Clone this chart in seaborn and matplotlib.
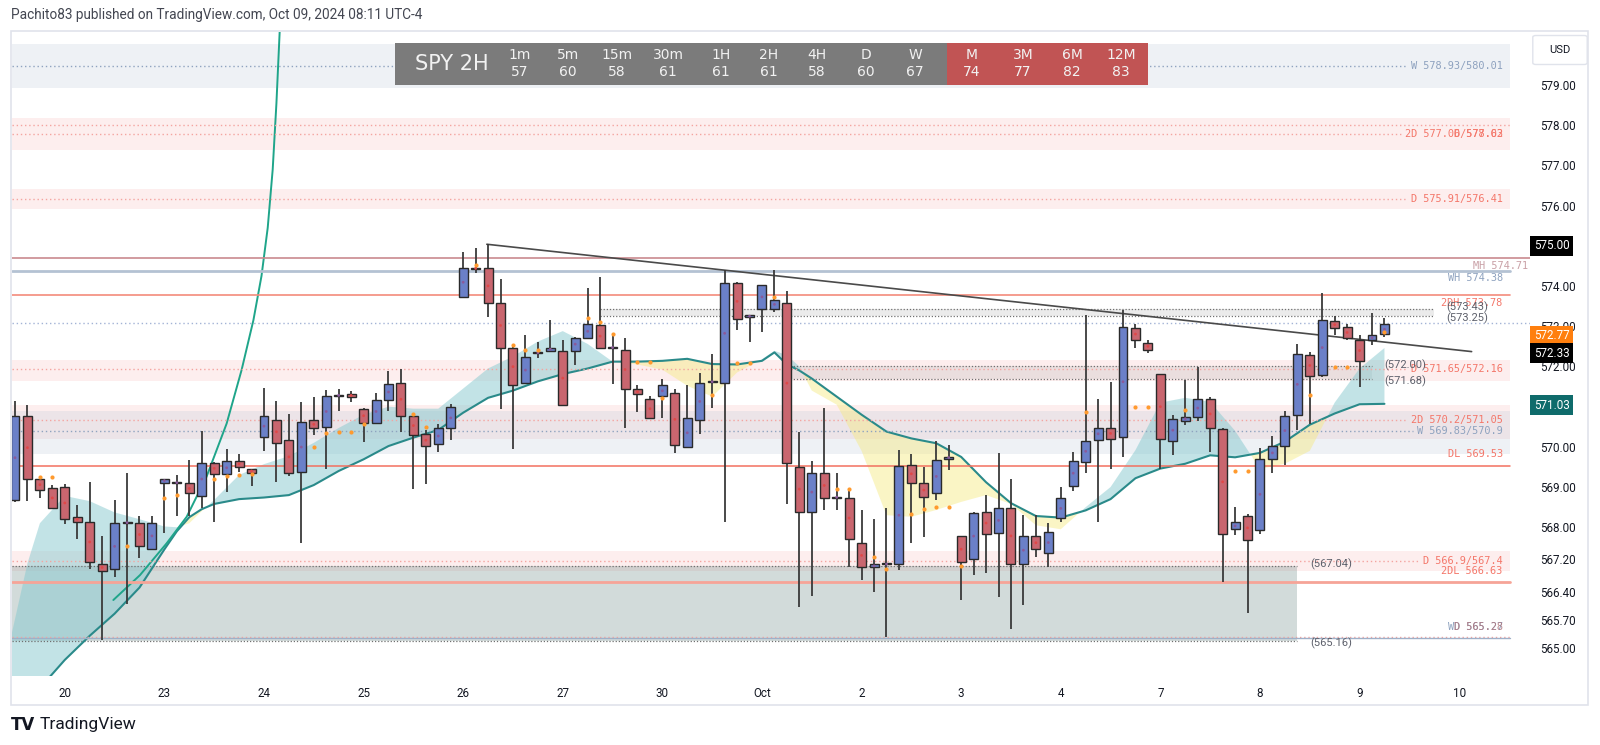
"""
SPY 2H snapshot (TradingView style) redrawn with seaborn + matplotlib.
Candles, EMA cloud, key levels / zones and the MTF header table.
"""
import numpy as np
import matplotlib
matplotlib.use("Agg")
import matplotlib.pyplot as plt
import matplotlib.transforms as mtransforms
from matplotlib.patches import Rectangle, FancyBboxPatch
import seaborn as sns

# ── 2H candles: last 4 bars of Sep 19, then Sep 20 .. Oct 9 (8 bars / day) ──
opens = [568.69, 570.77, 569.19, 568.97, 569.01, 568.26, 568.14, 567.08, 566.95, 568.11,
         568.11, 567.47, 569.11, 569.10, 569.09, 568.79, 569.61, 569.32, 569.64, 569.46,
         570.25, 570.66, 570.16, 569.37, 570.66, 570.50, 571.27, 571.31, 570.95, 570.60,
         571.16, 571.60, 570.77, 570.31, 570.07, 570.46, 573.73, 574.46, 574.44, 573.59,
         572.45, 571.58, 572.33, 572.39, 572.38, 572.39, 572.70, 573.04, 572.47, 572.42,
         571.43, 571.19, 571.26, 571.33, 569.99, 570.68, 571.61, 571.58, 574.07, 573.23,
         573.44, 573.44, 573.58, 569.51, 568.39, 569.34, 568.74, 568.74, 567.60, 567.00,
         567.08, 567.08, 569.55, 569.09, 568.86, 569.71, 567.78, 567.20, 568.39, 567.85,
         568.49, 567.08, 567.78, 567.35, 568.22, 569.03, 569.63, 570.17, 570.48, 570.25,
         572.95, 572.59, 571.81, 570.14, 570.65, 570.75, 571.18, 570.44, 567.95, 568.29,
         567.93, 569.69, 570.03, 570.79, 572.29, 571.79, 573.13, 572.97, 572.65, 572.65,
         572.80]
highs = [571.15, 571.04, 569.26, 569.05, 569.07, 568.55, 569.12, 567.79, 568.68, 569.36,
         568.28, 568.28, 569.21, 569.29, 569.67, 570.40, 569.63, 569.95, 569.82, 569.46,
         571.47, 571.14, 570.82, 571.12, 571.23, 571.41, 571.44, 571.39, 570.96, 571.33,
         571.89, 571.94, 570.85, 570.42, 570.58, 571.06, 574.85, 574.94, 575.04, 574.17,
         572.53, 572.78, 572.60, 573.15, 572.66, 572.74, 573.94, 574.23, 572.82, 572.70,
         571.53, 571.26, 571.68, 571.45, 571.54, 571.84, 572.30, 574.40, 574.11, 573.28,
         574.02, 574.40, 573.87, 570.38, 569.64, 570.96, 569.34, 568.97, 568.43, 568.20,
         568.49, 569.92, 569.82, 569.51, 570.14, 570.04, 567.78, 568.39, 568.80, 569.84,
         569.20, 568.30, 568.30, 568.10, 568.99, 569.88, 573.28, 571.18, 571.62, 573.40,
         573.05, 572.66, 571.81, 570.79, 571.66, 571.99, 571.25, 570.48, 568.50, 568.33,
         569.97, 570.26, 570.88, 572.57, 572.37, 573.82, 573.25, 573.05, 572.78, 573.32,
         573.20]
lows = [568.64, 568.66, 568.72, 568.45, 568.08, 567.70, 566.95, 565.19, 566.77, 566.09,
        567.23, 567.45, 567.85, 568.28, 568.29, 568.49, 568.14, 568.88, 569.38, 569.03,
        569.90, 569.12, 569.27, 567.62, 570.29, 569.46, 570.90, 571.12, 570.13, 570.58,
        570.89, 570.38, 568.95, 569.07, 569.88, 570.17, 573.73, 574.33, 573.22, 570.94,
        569.94, 571.58, 572.20, 572.37, 571.04, 572.03, 572.70, 572.47, 571.56, 570.46,
        570.87, 570.71, 570.71, 569.85, 569.96, 570.32, 570.97, 568.14, 572.91, 572.62,
        572.86, 573.36, 568.58, 566.02, 566.28, 568.43, 568.44, 567.02, 566.69, 566.40,
        565.28, 566.94, 567.60, 567.76, 568.68, 569.42, 566.19, 566.81, 566.85, 566.27,
        565.48, 566.07, 567.25, 567.02, 568.14, 568.91, 569.34, 568.14, 569.46, 569.74,
        572.45, 572.34, 569.46, 569.80, 570.54, 570.65, 569.88, 566.65, 567.81, 565.86,
        567.82, 569.34, 569.56, 570.43, 570.58, 571.74, 572.78, 572.66, 571.48, 572.53,
        572.74]
closes = [570.77, 569.19, 568.93, 568.49, 568.20, 568.14, 567.13, 566.92, 568.10, 568.12,
          567.53, 568.10, 569.21, 569.12, 568.84, 569.61, 569.32, 569.64, 569.51, 569.34,
          570.78, 570.09, 569.34, 570.62, 570.46, 571.26, 571.29, 571.25, 570.60, 571.16,
          571.57, 570.77, 570.29, 570.02, 570.47, 570.98, 574.46, 574.42, 573.57, 572.45,
          571.54, 572.24, 572.35, 572.47, 571.04, 572.72, 573.05, 572.47, 572.47, 571.43,
          571.31, 570.71, 571.53, 570.04, 570.71, 571.58, 571.63, 574.07, 573.17, 573.27,
          574.02, 573.65, 569.59, 568.39, 569.36, 568.74, 568.75, 567.72, 567.00, 567.08,
          567.09, 569.52, 569.11, 568.76, 569.67, 569.76, 567.13, 568.36, 567.82, 568.49,
          567.08, 567.78, 567.45, 567.89, 568.72, 569.66, 570.15, 570.48, 570.19, 572.99,
          572.66, 572.41, 570.19, 570.69, 570.75, 571.18, 570.46, 567.82, 568.12, 567.68,
          569.71, 570.01, 570.78, 572.32, 571.76, 573.15, 572.95, 572.72, 572.14, 572.78,
          573.05]

day_ticks = [4, 12, 20, 28, 36, 44, 52, 60, 68, 76, 84, 92, 100, 108, 116]
day_labels = ["20", "23", "24", "25", "26", "27", "30", "Oct", "2", "3", "4", "7", "8", "9", "10"]

# ── EMA cloud (slow line drawn, fast line only bounds the fill) ──
ema_x = [-0.3, 1, 2, 4, 6, 8, 10, 12, 13, 14, 15, 16, 18, 20, 22, 24, 26, 28, 30, 32, 34, 36,
         38, 40, 42, 44, 46, 48, 50, 52, 54, 56, 58, 60, 61, 62, 63, 64, 66, 68, 70, 72, 74,
         76, 78, 80, 82, 84, 86, 88, 90, 92, 94, 96, 98, 100, 102, 104, 106, 108, 110]
ema_slow = [563.3, 563.7, 564.0, 564.7, 565.3, 565.85, 566.5, 567.45, 567.9, 568.25, 568.45,
            568.58, 568.70, 568.74, 568.80, 569.05, 569.40, 569.69, 570.02, 570.23, 570.42,
            570.85, 571.22, 571.40, 571.63, 571.81, 571.95, 572.12, 572.12, 572.14, 572.19,
            572.06, 572.05, 572.14, 572.35, 572.05, 571.90, 571.70, 571.25, 570.80, 570.38,
            570.21, 570.09, 569.75, 569.12, 568.60, 568.28, 568.24, 568.42, 568.70, 569.22,
            569.46, 569.58, 569.79, 569.74, 569.85, 570.13, 570.55, 570.83, 571.06, 571.07]
ema_fast = [565.3, 567.1, 568.1, 568.78, 568.65, 568.37, 568.2, 568.02, 568.0, 568.1, 568.4,
            568.68, 569.30, 569.57, 569.77, 570.10, 570.47, 570.80, 571.0, 570.95, 570.95,
            571.45, 571.95, 572.25, 572.62, 572.88, 572.56, 572.12, 572.05, 571.92, 571.52,
            571.25, 571.85, 572.18, 572.39, 572.28, 572.0, 571.40, 571.05, 569.9, 568.30,
            568.26, 568.43, 568.63, 568.80, 568.58, 568.05, 567.95, 568.50, 569.0, 569.92,
            571.10, 571.22, 571.12, 570.40, 569.45, 569.58, 569.90, 571.10, 571.95, 572.46]

# steep green curve
curve_x = [7.9, 10.04, 12.18, 13.79, 15.39, 17.0, 18.2, 19.15, 19.8, 20.3, 20.7, 21.0, 21.3]
curve_y = [566.19, 566.81, 567.60, 568.26, 569.26, 570.58, 571.91, 573.15, 574.25, 575.45,
           576.90, 578.55, 580.6]

# descending trendline
trend_x = [37.9, 117.0]
trend_y = [575.04, 572.37]

# orange marker dots
odot_x = [2, 3, 9, 12, 13, 16, 17, 18, 19, 24, 25, 26, 27, 28, 32, 33, 37, 40, 41, 42, 46,
          47, 48, 50, 51, 52, 56, 58, 59, 61, 66, 67, 69, 70, 72, 73, 74, 75, 76, 86, 90, 91,
          94, 98, 99, 104, 106, 107, 110]
odot_y = [569.25, 569.25, 567.54, 568.73, 568.80, 569.19, 569.28, 569.30, 569.32, 570.00,
          570.34, 570.38, 570.38, 570.57, 570.82, 570.49, 574.52, 572.53, 572.42, 572.42,
          573.20, 573.10, 572.80, 572.12, 572.12, 571.21, 571.29, 572.08, 572.08, 573.73,
          568.95, 568.95, 567.27, 566.95, 568.33, 568.45, 568.50, 568.50, 567.04, 570.86,
          571.00, 571.00, 570.92, 569.39, 569.39, 571.30, 571.98, 571.98, 572.85]

# ── key-level bands ("d" = daily-type pink, "w" = weekly-type blue-grey) ──
band_lo = [578.93, 577.38, 575.91, 571.65, 570.20, 569.83, 566.90]
band_hi = [580.01, 578.17, 576.41, 572.16, 571.05, 570.90, 567.40]
band_kind = ["w", "d", "d", "d", "d", "w", "d"]

# dotted mid lines with their labels
dotted_y = [579.47, 577.78, 576.17, 571.93, 570.66, 570.40, 567.16]
dotted_kind = ["w", "d", "d", "d", "d", "w", "d"]
dotted_text = ["W 578.93/580.01", "2D 577.06/577.63", "D 575.91/576.41", "D 571.65/572.16",
               "2D 570.2/571.05", "W 569.83/570.9", "D 566.9/567.4"]
extra_dotted_y = [578.00, 573.07, 565.28]
extra_dotted_kind = ["d", "w", "d"]

# solid levels
solid_y = [574.71, 574.38, 573.78, 569.53, 566.63, 565.24]
solid_text = ["MH 574.71", "WH 574.38", "2DH 573.78", "DL 569.53", "2DL 566.63", "WD 565.27"]
solid_label_y = [574.50, 574.20, 573.58, 569.83, 566.90, 565.52]
solid_color = ["#c98a8f", "#b4c2d3", "#f38b7c", "#f2705f", "#f6a497", "#9fb0c8"]
solid_width = [1.2, 2.0, 1.2, 1.1, 2.0, 1.0]

# grey zones with dotted borders
zone_lo = [573.25, 571.68, 565.16]
zone_hi = [573.43, 572.00, 567.04]
zone_from = [47, 62, -0.24]
zone_to = [114, 109, 103]
zone_text_lo = ["(573.25)", "(571.68)", "(565.16)"]
zone_text_hi = ["(573.43)", "(572.00)", "(567.04)"]

# right price scale
price_ticks = [579, 578, 577, 576, 574, 573, 572, 570, 569, 568, 567.2, 566.4, 565.7, 565]
box_values = [575.00, 572.77, 572.33, 571.03]
box_colors = ["#000000", "#ff7f0e", "#000000", "#0f6b6b"]

# header MTF table
tf_names = ["1m", "5m", "15m", "30m", "1H", "2H", "4H", "D", "W", "M", "3M", "6M", "12M"]
tf_values = [57, 60, 58, 61, 61, 61, 58, 60, 67, 74, 77, 82, 83]

# ── style ──
sns.set_theme(style="white")
plt.rcParams["font.family"] = ["Roboto", "DejaVu Sans"]

RED_TXT = "#f4776a"
STEEL = "#8ea2bf"
PINK = "#f7b9b9"
BLUEGREY = "#b8c7d9"

W_PX, H_PX = 1600, 745
fig = plt.figure(figsize=(16, 7.45), dpi=100)
fig.patch.set_facecolor("white")


def fx(px):
    return px / W_PX


def fy(py):
    return 1 - py / H_PX


ax = fig.add_axes([fx(12), fy(676), fx(1530) - fx(12), fy(32) - fy(676)])
X0, X1 = -0.24, 121.69
ax.set_xlim(X0, X1)
ax.set_ylim(564.30, 580.32)
ax.set_facecolor("white")
for s in ax.spines.values():
    s.set_visible(False)

BAND_RIGHT = 120.1
LABEL_RIGHT = 119.5
CHAR_W = 0.492  # bar units per monospace label char

# bands
for lo, hi, kind in zip(band_lo, band_hi, band_kind):
    fc = PINK if kind == "d" else BLUEGREY
    ax.add_patch(Rectangle((X0, lo), BAND_RIGHT - X0, hi - lo, fc=fc, ec="none",
                           alpha=0.24, zorder=1))

# grey zones
for lo, hi, x_a, x_b, i in zip(zone_lo, zone_hi, zone_from, zone_to, range(3)):
    big = i == 2
    ax.add_patch(Rectangle((x_a, lo), x_b - x_a, hi - lo,
                           fc="#5f7f7d" if big else "#9e9e9e", ec="none",
                           alpha=0.28 if big else 0.2, zorder=1))
    for yy in (lo, hi):
        ax.plot([x_a, x_b], [yy, yy], color="#707070", lw=0.9, ls=(0, (1, 1.5)), zorder=3)

# EMA cloud
ex = np.array(ema_x)
es = np.array(ema_slow)
ef = np.array(ema_fast)
ax.fill_between(ex, es, ef, where=ef >= es, interpolate=True, color="#86c9cf", alpha=0.5,
                lw=0, zorder=2)
ax.fill_between(ex, es, ef, where=ef < es, interpolate=True, color="#f5ea80", alpha=0.45,
                lw=0, zorder=2)
sns.lineplot(x=ema_x, y=ema_slow, ax=ax, color="#2a8a8a", lw=1.5, sort=False,
             estimator=None, zorder=3)
sns.lineplot(x=curve_x, y=curve_y, ax=ax, color="#1fa58a", lw=1.4, sort=False,
             estimator=None, zorder=3)

# dotted level lines and labels
for yy, kind, txt in zip(dotted_y, dotted_kind, dotted_text):
    col = "#f4a4a0" if kind == "d" else "#8fa3bf"
    end = LABEL_RIGHT - len(txt) * CHAR_W - 0.3
    ax.plot([X0, end], [yy, yy], color=col, lw=1.0, ls=(0, (1, 2)), zorder=3)
    ax.text(LABEL_RIGHT, yy, txt, ha="right", va="center", fontsize=7.4,
            family="DejaVu Sans Mono", color=RED_TXT if kind == "d" else STEEL, zorder=7)
ax.text(LABEL_RIGHT, dotted_y[1], "D 578.02", ha="right", va="center", fontsize=7.4,
        family="DejaVu Sans Mono", color=RED_TXT, zorder=7)

for yy, kind in zip(extra_dotted_y, extra_dotted_kind):
    col = "#f4a4a0" if kind == "d" else "#a3b3d6"
    end = X1 if kind == "w" else BAND_RIGHT
    ax.plot([X0, end], [yy, yy], color=col, lw=1.0, ls=(0, (1, 2)), zorder=3)

# solid levels
for k, (yy, txt, ly, col, lw) in enumerate(zip(solid_y, solid_text, solid_label_y,
                                               solid_color, solid_width)):
    end = X1 if k == 0 else BAND_RIGHT
    ax.plot([X0, end], [yy, yy], color=col, lw=lw, zorder=3)
    x_lab = 121.5 if k == 0 else LABEL_RIGHT
    tcol = "#c9a0a6" if k == 0 else (STEEL if col in ("#b4c2d3", "#9fb0c8") else RED_TXT)
    ax.text(x_lab, ly, txt, ha="right", va="center", fontsize=7.4,
            family="DejaVu Sans Mono", color=tcol, zorder=7)
ax.text(LABEL_RIGHT, solid_label_y[-1], "D 565.28", ha="right", va="center", fontsize=7.4,
        family="DejaVu Sans Mono", color="#b07880", alpha=0.9, zorder=7)

# zone labels
zone_lab_x = [115.0, 110.0, 104.0]
for xl, t_lo, t_hi, lo, hi in zip(zone_lab_x, zone_text_lo, zone_text_hi, zone_lo, zone_hi):
    ax.text(xl, hi + 0.04, t_hi, ha="left", va="center", fontsize=8, color="#5d606b", zorder=7)
    ax.text(xl, lo - 0.04, t_lo, ha="left", va="center", fontsize=8, color="#5d606b", zorder=7)

# trendline
sns.lineplot(x=trend_x, y=trend_y, ax=ax, color="#4a4a4a", lw=1.2, zorder=4)

# candles
o = np.array(opens)
h = np.array(highs)
l = np.array(lows)
c = np.array(closes)
idx = np.arange(len(o))
up = c >= o
body_lo = np.minimum(o, c)
body_h = np.maximum(np.abs(c - o), 0.025)
ax.vlines(idx, l, h, color="#3a3a3a", lw=1.3, zorder=4)
ax.bar(idx[up], body_h[up], bottom=body_lo[up], width=0.72, color="#6b80c8",
       edgecolor="#2a2a2a", linewidth=1.0, zorder=5)
ax.bar(idx[~up], body_h[~up], bottom=body_lo[~up], width=0.72, color="#c9666f",
       edgecolor="#2a2a2a", linewidth=1.0, zorder=5)
mid_col = np.where(up, "#8a5a9a", "#e04848")
ax.scatter(idx, (o + c) / 2, s=4, c=mid_col, linewidths=0, zorder=6)
sns.scatterplot(x=odot_x, y=odot_y, ax=ax, s=9, color="#ff9a2e", linewidth=0, zorder=6)

# axes ticks
ax.yaxis.tick_right()
ax.set_yticks(price_ticks)
ax.set_yticklabels([f"{v:.2f}" for v in price_ticks])
ax.tick_params(axis="y", length=0, pad=7, labelsize=8.4, labelcolor="#131722")
ax.set_xticks(day_ticks)
ax.set_xticklabels(day_labels)
ax.tick_params(axis="x", length=0, pad=8, labelsize=8.4, labelcolor="#131722")
ax.grid(False)

trans = mtransforms.blended_transform_factory(ax.transAxes, ax.transData)
for val, fc in zip(box_values, box_colors):
    ax.text(1.0 + 4 / 1518, val, f"{val:.2f}", transform=trans, ha="left", va="center",
            color="white", fontsize=8.4, zorder=10, clip_on=False,
            bbox=dict(boxstyle="square,pad=0.3", fc=fc, ec="none"))

# panel frame
fig.add_artist(Rectangle((fx(11), fy(705)), fx(1588) - fx(11), fy(31) - fy(705),
                         transform=fig.transFigure, fc="none", ec="#e0e3eb", lw=1.2,
                         zorder=0))
fig.add_artist(FancyBboxPatch((fx(1536), fy(63)), fx(1584) - fx(1536), fy(37) - fy(63),
                              boxstyle="round,pad=0.002", transform=fig.transFigure,
                              fc="white", ec="#e0e3eb", lw=1.0, zorder=6))
fig.text(fx(1560), fy(50), "USD", ha="center", va="center", fontsize=8, color="#131722",
         zorder=7)

# header table
fig.add_artist(Rectangle((fx(395), fy(85)), fx(947) - fx(395), fy(43) - fy(85),
                         transform=fig.transFigure, fc="#7b7b7b", ec="none", zorder=6))
fig.add_artist(Rectangle((fx(947), fy(85)), fx(1148) - fx(947), fy(43) - fy(85),
                         transform=fig.transFigure, fc="#c15454", ec="none", zorder=6))
tab_font = ["Liberation Sans Narrow", "DejaVu Sans"]
fig.text(fx(452), fy(64), "SPY 2H", ha="center", va="center", fontsize=15,
         color="#f2f2f2", family=tab_font, zorder=7)
col_x = [520, 568, 617, 668, 721, 769, 817, 866, 915, 972, 1023, 1072, 1121]
for cx, name, val in zip(col_x, tf_names, tf_values):
    fig.text(fx(cx), fy(55), name, ha="center", va="center", fontsize=10,
             color="#f2f2f2", family=tab_font, zorder=7)
    fig.text(fx(cx), fy(72), str(val), ha="center", va="center", fontsize=10,
             color="#f2f2f2", family=tab_font, zorder=7)

fig.text(fx(11), fy(15), "Pachito83 published on TradingView.com, Oct 09, 2024 08:11 UTC-4",
         ha="left", va="center", fontsize=9.8, color="#434651")
fig.text(fx(11), fy(725), "TV", ha="left", va="center", fontsize=12, weight="heavy",
         family="DejaVu Sans", color="#131722")
fig.text(fx(40), fy(725), "TradingView", ha="left", va="center", fontsize=12.5,
         color="#131722")

fig.savefig("out.png", dpi=100, facecolor="white")
